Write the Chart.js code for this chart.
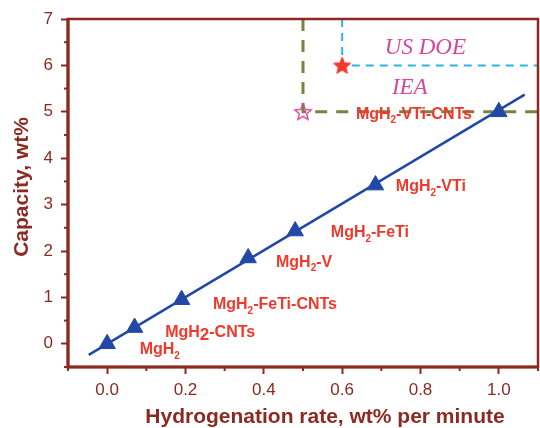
<!DOCTYPE html>
<html><head><meta charset="utf-8">
<script src="https://cdn.jsdelivr.net/npm/chart.js@4/dist/chart.umd.min.js"></script>
<style>html,body{margin:0;padding:0;background:#fff}#wrap{width:540px;height:428px}</style>
</head><body><div id="wrap"><canvas id="c" width="540" height="428"></canvas></div>
<script>
// ---- data ----
const materials = ['MgH2', 'MgH2-CNTs', 'MgH2-FeTi-CNTs', 'MgH2-V', 'MgH2-FeTi', 'MgH2-VTi', 'MgH2-VTi-CNTs'];
const rate = [0.0, 0.07, 0.19, 0.36, 0.48, 0.685, 1.0];
const capacity = [0.0, 0.35, 0.95, 1.85, 2.43, 3.42, 5.0];
const fitRate = [-0.047, 1.066];
const fitCapacity = [-0.24, 5.37];
const targetNames = ['US DOE', 'IEA'];
const targetRate = [0.6, 0.5];
const targetCapacity = [6, 5];
const xTicks = [0, 0.2, 0.4, 0.6, 0.8, 1.0];
const yTicks = [0, 1, 2, 3, 4, 5, 6, 7];
const xMinor = [-0.1, 0.1, 0.3, 0.5, 0.7, 0.9, 1.1];
const yMinor = [-0.5, 0.5, 1.5, 2.5, 3.5, 4.5, 5.5, 6.5];
const xRange = [-0.1, 1.1];
const yRange = [-0.5, 7];

// ---- styling / annotation placement ----
const AXIS = '#8b2a22';
const BLUE = '#2148a6';
const RED = '#f0382b';
const PINK = '#d8469c';
const OLIVE = '#76843f';
const CYAN = '#2ab4de';
const labelAnchor = [[0.083, -0.13], [0.148, 0.24], [0.27, 0.84], [0.431, 1.75], [0.571, 2.39], [0.737, 3.38], [0.635, 4.94]];
const labelFullSub = [false, true, false, false, false, false, false];
const targetLabelAnchor = [[0.709, 6.38], [0.727, 5.52]];

function starCanvas(size, fill, stroke, lw) {
  const c = document.createElement('canvas');
  c.width = size; c.height = size;
  const g = c.getContext('2d');
  const R = size / 2 - lw, r = R * 0.45, cx = size / 2, cy = size / 2 + R * 0.08;
  g.beginPath();
  for (let i = 0; i < 10; i++) {
    const a = -Math.PI / 2 + i * Math.PI / 5;
    const rr = i % 2 === 0 ? R : r;
    g.lineTo(cx + rr * Math.cos(a), cy + rr * Math.sin(a));
  }
  g.closePath();
  if (fill) { g.fillStyle = fill; g.fill(); }
  g.lineWidth = lw; g.strokeStyle = stroke; g.lineJoin = 'miter'; g.stroke();
  return c;
}
const redStar = starCanvas(20, RED, RED, 1);
const pinkStar = starCanvas(20, null, PINK, 1.4);

const pts = (xs, ys) => xs.map((x, i) => ({x: x, y: ys[i]}));

const decor = {
  id: 'decor',
  afterDraw(chart) {
    const ctx = chart.ctx, a = chart.chartArea;
    const xs = chart.scales.x, ys = chart.scales.y;
    ctx.save();
    // minor ticks
    ctx.strokeStyle = AXIS; ctx.lineWidth = 2;
    xMinor.forEach(v => { const p = xs.getPixelForValue(v); ctx.beginPath(); ctx.moveTo(p, a.bottom); ctx.lineTo(p, a.bottom + 4); ctx.stroke(); });
    yMinor.forEach(v => { const p = ys.getPixelForValue(v); ctx.beginPath(); ctx.moveTo(a.left, p); ctx.lineTo(a.left - 4, p); ctx.stroke(); });
    // frame
    ctx.lineWidth = 2.5;
    ctx.strokeRect(a.left, a.top, a.right - a.left, a.bottom - a.top);
    ctx.lineWidth = 3.2;
    ctx.beginPath(); ctx.moveTo(a.left, a.top - 1); ctx.lineTo(a.left, a.bottom); ctx.lineTo(a.right + 1, a.bottom); ctx.stroke();
    // material labels
    ctx.fillStyle = RED; ctx.textBaseline = 'middle'; ctx.textAlign = 'left';
    materials.forEach((m, i) => {
      let x = xs.getPixelForValue(labelAnchor[i][0]);
      const y = ys.getPixelForValue(labelAnchor[i][1]);
      const head = m.slice(0, 3), sub = m.slice(3, 4), rest = m.slice(4);
      ctx.font = 'bold 16px "Liberation Sans", Arial, sans-serif';
      ctx.fillText(head, x, y); x += ctx.measureText(head).width;
      if (labelFullSub[i]) {
        ctx.font = 'bold 17px "Liberation Sans", Arial, sans-serif';
        ctx.fillText(sub, x, y + 3); x += ctx.measureText(sub).width;
      } else {
        ctx.font = 'bold 10px "Liberation Sans", Arial, sans-serif';
        ctx.fillText(sub, x, y + 6); x += ctx.measureText(sub).width;
      }
      ctx.font = 'bold 16px "Liberation Sans", Arial, sans-serif';
      ctx.fillText(rest, x, y);
    });
    // target labels
    ctx.fillStyle = PINK;
    ctx.font = 'italic 23px "Liberation Serif", "Times New Roman", serif';
    targetNames.forEach((t, i) => {
      ctx.fillText(t, xs.getPixelForValue(targetLabelAnchor[i][0]), ys.getPixelForValue(targetLabelAnchor[i][1]));
    });
    // axis titles
    ctx.fillStyle = AXIS;
    ctx.font = 'bold 21px "Liberation Sans", Arial, sans-serif';
    ctx.textAlign = 'center';
    ctx.fillText('Hydrogenation rate, wt% per minute', 325, 417);
    ctx.translate(22, 187); ctx.rotate(-Math.PI / 2);
    ctx.fillText('Capacity, wt%', 0, 0);
    ctx.restore();
  }
};

new Chart(document.getElementById('c'), {
  type: 'scatter',
  data: {
    datasets: [
      {label: 'targets', data: pts(targetRate, targetCapacity), pointStyle: [redStar, pinkStar], order: 0},
      {label: 'materials', data: pts(rate, capacity), pointStyle: 'triangle', pointRadius: 9.5, pointHoverRadius: 9.5,
       backgroundColor: BLUE, borderColor: BLUE, borderWidth: 1, order: 1},
      {label: 'fit', data: pts(fitRate, fitCapacity), showLine: true, borderColor: BLUE, borderWidth: 2.5, pointRadius: 0, order: 2},
      {label: 'IEA', data: [{x: targetRate[1], y: yRange[1]}, {x: targetRate[1], y: targetCapacity[1]}, {x: xRange[1], y: targetCapacity[1]}],
       showLine: true, borderColor: OLIVE, borderWidth: 3, borderDash: [12, 9], pointRadius: 0, order: 4},
      {label: 'US DOE', data: [{x: targetRate[0], y: yRange[1]}, {x: targetRate[0], y: targetCapacity[0]}, {x: xRange[1], y: targetCapacity[0]}],
       showLine: true, borderColor: CYAN, borderWidth: 2, borderDash: [8, 6], pointRadius: 0, order: 3}
    ]
  },
  options: {
    responsive: false,
    animation: false,
    layout: {autoPadding: false, padding: {top: 19, right: 2, left: 0, bottom: 0}},
    plugins: {legend: {display: false}, tooltip: {enabled: false}},
    scales: {
      x: {
        type: 'linear', min: xRange[0], max: xRange[1],
        afterBuildTicks: s => { s.ticks = xTicks.map(v => ({value: v})); },
        afterFit: s => { s.height = 61; s.paddingLeft = 0; s.paddingRight = 0; },
        ticks: {color: AXIS, font: {size: 17, family: '"Liberation Sans", Arial, sans-serif'}, padding: 6,
                callback: v => Number(v).toFixed(1)},
        grid: {drawOnChartArea: false, drawTicks: true, tickLength: 7, tickColor: AXIS, tickWidth: 2},
        border: {display: false}
      },
      y: {
        type: 'linear', min: yRange[0], max: yRange[1],
        afterBuildTicks: s => { s.ticks = yTicks.map(v => ({value: v})); },
        afterFit: s => { s.width = 68; s.paddingTop = 0; s.paddingBottom = 0; },
        ticks: {color: AXIS, font: {size: 17, family: '"Liberation Sans", Arial, sans-serif'}, padding: 8,
                callback: v => String(v)},
        grid: {drawOnChartArea: false, drawTicks: true, tickLength: 7, tickColor: AXIS, tickWidth: 2},
        border: {display: false}
      }
    }
  },
  plugins: [decor]
});
</script>
</body></html>
